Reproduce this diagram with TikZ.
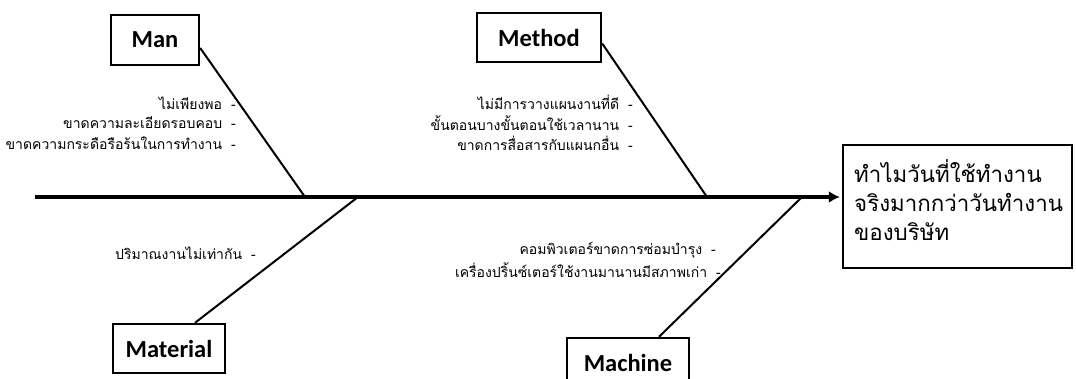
\documentclass[tikz,border=0pt]{standalone}
\usepackage{fontspec}
\setmainfont{Carlito}
\newfontfamily\thaifont[Script=Thai]{Loma}
\usetikzlibrary{arrows.meta}
\begin{document}
\begin{tikzpicture}[x=1pt,y=-1pt,
  catbox/.style={draw, line width=2.4pt, inner sep=0pt, font=\bfseries\fontsize{24.5}{28}\selectfont},
  bone/.style={line width=2pt},
  cause/.style={anchor=east, inner sep=0pt, font=\thaifont\fontsize{14}{17}\selectfont},
  effectbox/.style={draw, line width=2.4pt, minimum width=229pt, minimum height=123pt, inner sep=0pt}]
\useasboundingbox (0,0) rectangle (1076,378);

% category boxes
\node[catbox, minimum width=88pt, minimum height=50pt] (man) at (155,40) {Man};
\node[catbox, minimum width=124pt, minimum height=49pt] (method) at (539,37.5) {Method};
\node[catbox, minimum width=112pt, minimum height=49pt] (material) at (169,348.5) {Material};
\node[catbox, minimum width=122pt, minimum height=50pt] (machine) at (628,363) {Machine};

% effect box
\node[effectbox] (effect) at (957.5,206.5) {};
\node[anchor=west, align=left, inner sep=0pt, font=\thaifont\fontsize{22.3}{29}\selectfont]
  (effecttext) at (854,200) {ทำไมวันที่ใช้ทำงาน\\จริงมากกว่าวันทำงาน\\ของบริษัท};

% spine
\coordinate (tail) at (35,197);
\draw[line width=4.5pt, -{Latex[length=11pt,width=12pt]}, shorten >=2pt] (tail) -- (tail -| effect.west);

% joints on the spine
\coordinate (jman) at (305,197);
\coordinate (jmethod) at (707,197);
\coordinate (jmaterial) at (358,197);
\coordinate (jmachine) at (802,197);

\draw[bone] ([yshift=-8pt]man.east) -- (jman);
\draw[bone] ([yshift=-6pt]method.east) -- (jmethod);
\draw[bone] ([xshift=26pt]material.north) -- (jmaterial);
\draw[bone] ([xshift=31pt]machine.north) -- (jmachine);

% causes
\node[cause] (man1) at (236,103) {ไม่เพียงพอ\hspace{9pt}-};
\node[cause] (man2) at (236,123) {ขาดความละเอียดรอบคอบ\hspace{9pt}-};
\node[cause] (man3) at (236,143) {ขาดความกระดือรือร้นในการทำงาน\hspace{9pt}-};

\node[cause] (method1) at (633,102) {ไม่มีการวางแผนงานที่ดี\hspace{9pt}-};
\node[cause] (method2) at (633,123) {ขั้นตอนบางขั้นตอนใช้เวลานาน\hspace{9pt}-};
\node[cause] (method3) at (633,143) {ขาดการสื่อสารกับแผนกอื่น\hspace{9pt}-};

\node[cause] (material1) at (256,253) {ปริมาณงานไม่เท่ากัน\hspace{9pt}-};

\node[cause] (machine1) at (716,250) {คอมพิวเตอร์ขาดการซ่อมบำรุง\hspace{9pt}-};
\node[cause] (machine2) at (721,270) {เครื่องปริ้นซ์เตอร์ใช้งานมานานมีสภาพเก่า\hspace{9pt}-};
\end{tikzpicture}
\end{document}
